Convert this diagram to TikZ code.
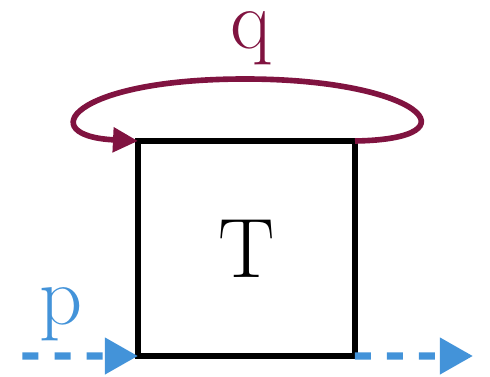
\documentclass[tikz,border=0pt]{standalone}
\usepackage{amsmath,amssymb}
\usepackage{tikz}
\usetikzlibrary{arrows.meta}

\definecolor{loopred}{RGB}{128,19,64}
\definecolor{wireblue}{RGB}{67,147,217}

\begin{document}
\begin{tikzpicture}[every node/.style={font=\fontsize{48}{58}\selectfont},
	box/.style={draw, line width=3pt, minimum width=4.34cm, minimum height=4.30cm, inner sep=0pt, outer sep=0pt},
	loopline/.style={loopred, line width=3.2pt, -{Triangle[length=0.5cm, width=0.48cm]}},
	wire/.style={wireblue, line width=4pt, dash pattern=on 0.32cm off 0.32cm, -{Triangle[length=0.66cm, width=0.7cm]}}]
	\useasboundingbox (0,0) rectangle (9.8,7.52);
	\node[box] (T) at (4.93,2.55) {T};
	\coordinate (qtop) at (4.90,5.94);
	\coordinate (pin) at (0.45,0.40);
	\coordinate (pout) at (9.46,0.40);
	\draw[loopline] (T.north east) .. controls +(2.5,0.04) and +(3.5,0) .. (qtop) .. controls +(-3.5,0) and +(-2.1,0.1) .. (T.north west);
	\node[loopred, anchor=base, inner sep=0pt] (q) at (5.02,6.56) {q};
	\draw[wire] (pin) -- (T.south west);
	\draw[wire] (T.south east) -- (pout);
	\node[wireblue, anchor=base, inner sep=0pt] (p) at (1.22,1.03) {p};
\end{tikzpicture}
\end{document}
